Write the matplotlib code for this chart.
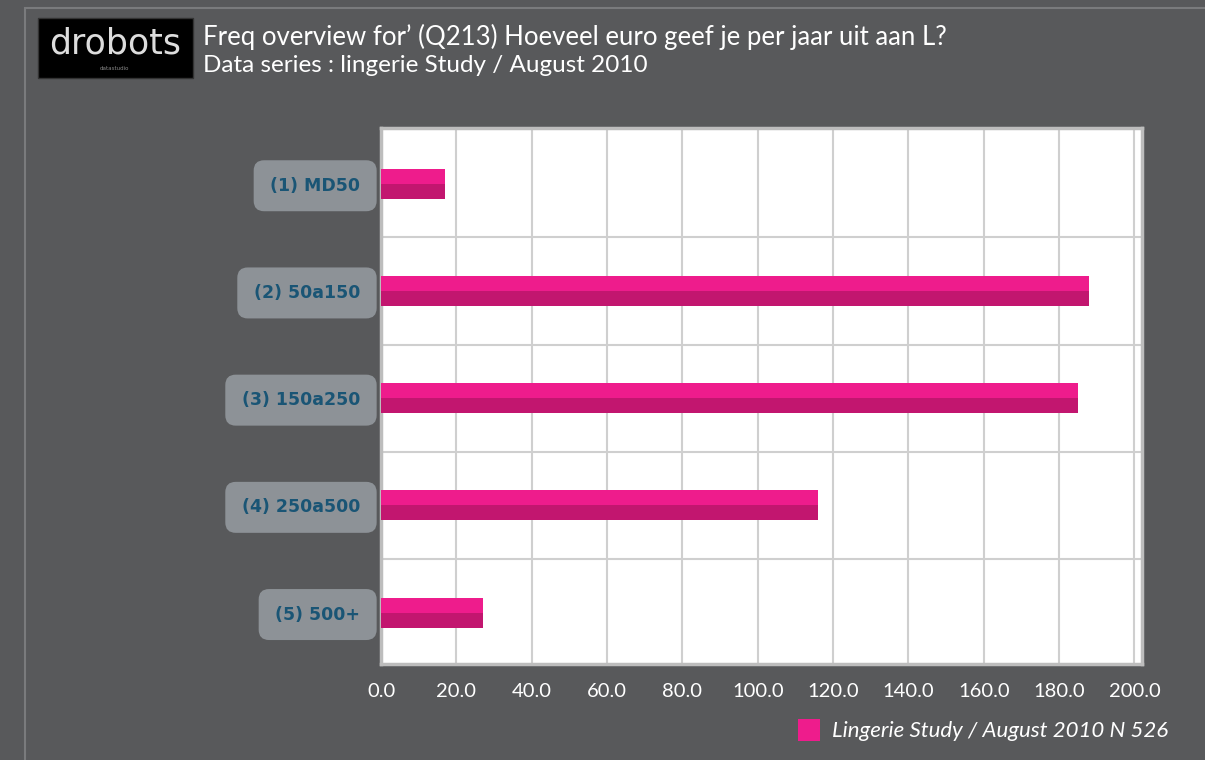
# frequentie overzicht Q213 - horizontale staven
import matplotlib.pyplot as plt
from matplotlib.patches import Rectangle

categorias = ['(1) MD50', '(2) 50a150', '(3) 150a250', '(4) 250a500', '(5) 500+']
valores = [17, 188, 185, 116, 27]
ticks_x = [0, 20, 40, 60, 80, 100, 120, 140, 160, 180, 200]
titulo = "Freq overview for\u2019 (Q213) Hoeveel euro geef je per jaar uit aan L?"
subtitulo = "Data series : lingerie Study / August 2010"
leyenda = "Lingerie Study / August 2010 N 526"

fondo = '#58595b'
rosa = '#ee1c8c'
rosa_osc = '#c2166f'

W, H = 1205, 760
fig = plt.figure(figsize=(W / 100, H / 100), dpi=100, facecolor=fondo)

# marco claro
fig.patches.append(Rectangle((25 / W, -0.1), 1.2, 1 - 8 / H + 0.1, transform=fig.transFigure,
                             fill=False, edgecolor='#7a7b7d', linewidth=1.5))

# logo
fig.patches.append(Rectangle((38 / W, 1 - 78 / H), 155 / W, 60 / H, transform=fig.transFigure,
                             facecolor='black', edgecolor='#333333'))
fig.text(115 / W, 1 - 44 / H, 'drobots', color='#dddddd', fontsize=25, ha='center', va='center',
         family='DejaVu Sans')
fig.text(115 / W, 1 - 68 / H, 'datastudio', color='#888888', fontsize=4, ha='center', va='center')

fig.text(203 / W, 1 - 37 / H, titulo, color='white', fontsize=18.5, family='Lato', va='center')
fig.text(203 / W, 1 - 66 / H, subtitulo, color='white', fontsize=17.5, family='Lato', va='center')

ax = fig.add_axes([381 / W, 96 / H, 761 / W, 536 / H])
ax.set_facecolor('white')
pos = list(range(len(categorias)))
mitad = 0.14
ax.barh([p - mitad for p in pos], valores, height=mitad, align='edge', color=rosa, zorder=3)
ax.barh(pos, valores, height=mitad, align='edge', color=rosa_osc, zorder=3)

ax.set_xlim(0, 202)
ax.set_ylim(4.48, -0.52)
ax.set_xticks(ticks_x)
ax.set_xticklabels(['%.1f' % t for t in ticks_x])
for y in [0.5, 1.5, 2.5, 3.5]:
    ax.axhline(y, color='#cfcfcf', linewidth=1.5, zorder=1)
ax.grid(axis='x', color='#cfcfcf', linewidth=1.5, zorder=1)
ax.set_yticks(pos)
ax.set_yticklabels(categorias)
ax.tick_params(axis='y', length=0, pad=15)
ax.tick_params(axis='x', length=0, pad=14, colors='white', labelsize=14.5)
for lab in ax.get_xticklabels():
    lab.set_family('Lato')
for lab in ax.get_yticklabels():
    lab.set_color('#1a5575')
    lab.set_fontweight('bold')
    lab.set_fontsize(12.5)
    lab.set_bbox(dict(boxstyle='round,pad=0.95,rounding_size=0.6', facecolor='#8d9297', edgecolor='none'))
for s in ax.spines.values():
    s.set_color('#bdbdbd')
    s.set_linewidth(2.5)

# leyenda
fig.patches.append(Rectangle((798 / W, 1 - 741 / H), 22 / W, 22 / H, transform=fig.transFigure,
                             facecolor=rosa, edgecolor='none'))
fig.text(832 / W, 1 - 731 / H, leyenda, color='white', fontsize=16, style='italic',
         family='Lato', va='center')

plt.savefig('out.png', dpi=100, facecolor=fondo)
